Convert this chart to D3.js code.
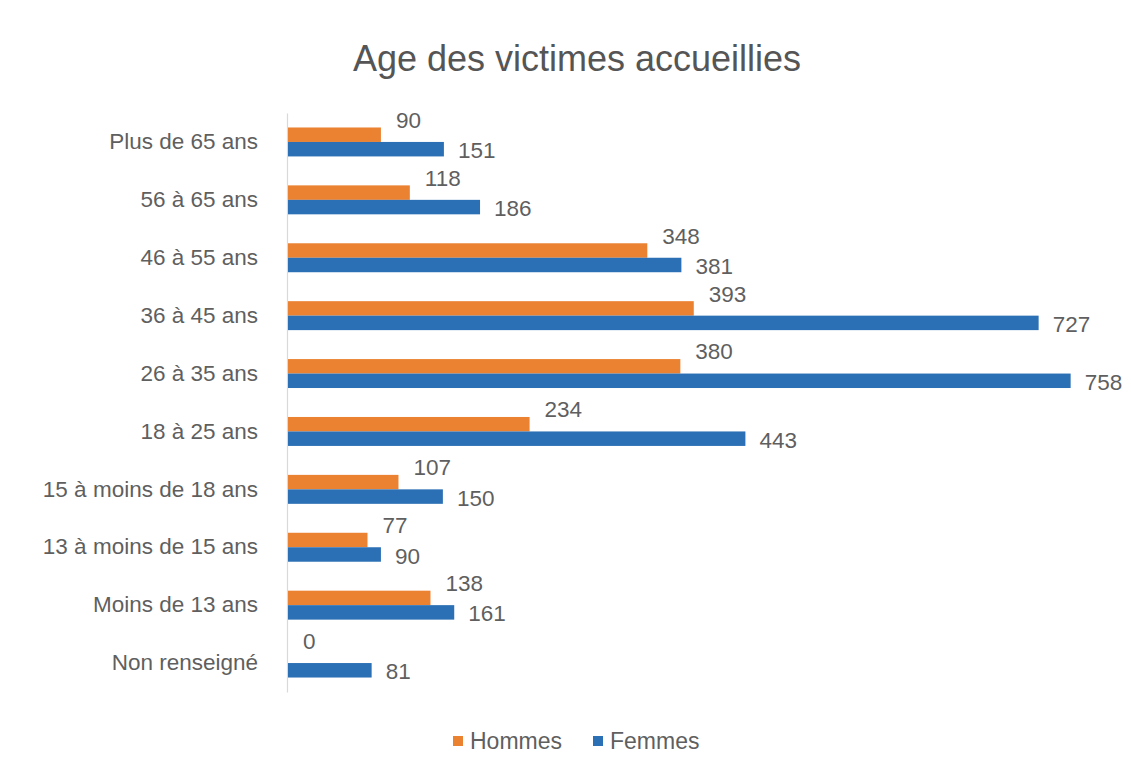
<!DOCTYPE html>
<html>
<head>
<meta charset="utf-8">
<script src="https://cdn.jsdelivr.net/npm/d3@7"></script>
<style>
  html, body { margin: 0; padding: 0; background: #ffffff; }
  svg { display: block; }
  text { font-family: "Liberation Sans", Arial, sans-serif; }
</style>
</head>
<body>
<svg id="chart" width="1131" height="767"></svg>
<script>
const categories = [
  "Plus de 65 ans", "56 à 65 ans", "46 à 55 ans", "36 à 45 ans", "26 à 35 ans",
  "18 à 25 ans", "15 à moins de 18 ans", "13 à moins de 15 ans", "Moins de 13 ans", "Non renseigné"
];
const hommes = [90, 118, 348, 393, 380, 234, 107, 77, 138, 0];
const femmes = [151, 186, 381, 727, 758, 443, 150, 90, 161, 81];
const seriesNames = ["Hommes", "Femmes"];
const title = "Age des victimes accueillies";

const colors = { Hommes: "#EB8232", Femmes: "#2B6FB4" };
const titleColor = "#555555";
const textColor = "#5f5f5f";

const svg = d3.select("#chart");

const x = d3.scaleLinear().domain([0, 800]).range([288, 1114]);
const y = d3.scaleBand().domain(categories).range([113, 692]).paddingInner(0.5).paddingOuter(0.25);
const sub = d3.scaleBand().domain(seriesNames).range([0, y.bandwidth()]);

// Title
svg.append("text")
  .attr("x", 577).attr("y", 71)
  .attr("text-anchor", "middle")
  .attr("font-size", 36)
  .attr("fill", titleColor)
  .text(title);

// Category axis
const yAxis = d3.axisLeft(y).tickSize(0).tickPadding(29);
const gy = svg.append("g").attr("transform", "translate(287,0)").call(yAxis);
gy.select(".domain").attr("stroke", "#d9d9d9").attr("stroke-width", 1.2);
gy.selectAll("text").attr("font-size", 22.5).attr("fill", textColor)
  .attr("font-family", "'Liberation Sans', Arial, sans-serif");

const rows = categories.map((c, i) => ({ cat: c, Hommes: hommes[i], Femmes: femmes[i] }));

const groups = svg.append("g").selectAll("g")
  .data(rows).join("g")
  .attr("transform", d => `translate(0,${y(d.cat)})`);

groups.selectAll("rect")
  .data(d => seriesNames.map(s => ({ s, v: d[s] })))
  .join("rect")
  .attr("x", x(0))
  .attr("y", d => sub(d.s))
  .attr("height", sub.bandwidth())
  .attr("width", d => x(d.v) - x(0))
  .attr("fill", d => colors[d.s]);

groups.selectAll("text.val")
  .data(d => seriesNames.map(s => ({ s, v: d[s] })))
  .join("text")
  .attr("class", "val")
  .attr("x", d => x(d.v) + (d.s === "Hommes" ? 15 : 14))
  .attr("y", d => sub(d.s) + sub.bandwidth() / 2 + (d.s === "Hommes" ? -15 : 1))
  .attr("dy", "0.36em")
  .attr("font-size", 22.5)
  .attr("fill", textColor)
  .text(d => d.v);

// Legend
const legend = svg.append("g");
const legendItems = [
  { s: "Hommes", x: 453 },
  { s: "Femmes", x: 593 }
];
legendItems.forEach(it => {
  legend.append("rect")
    .attr("x", it.x).attr("y", 736)
    .attr("width", 10).attr("height", 10)
    .attr("fill", colors[it.s]);
  legend.append("text")
    .attr("x", it.x + 17).attr("y", 741)
    .attr("dy", "0.36em")
    .attr("font-size", 23)
    .attr("fill", textColor)
    .text(it.s);
});
</script>
</body>
</html>
